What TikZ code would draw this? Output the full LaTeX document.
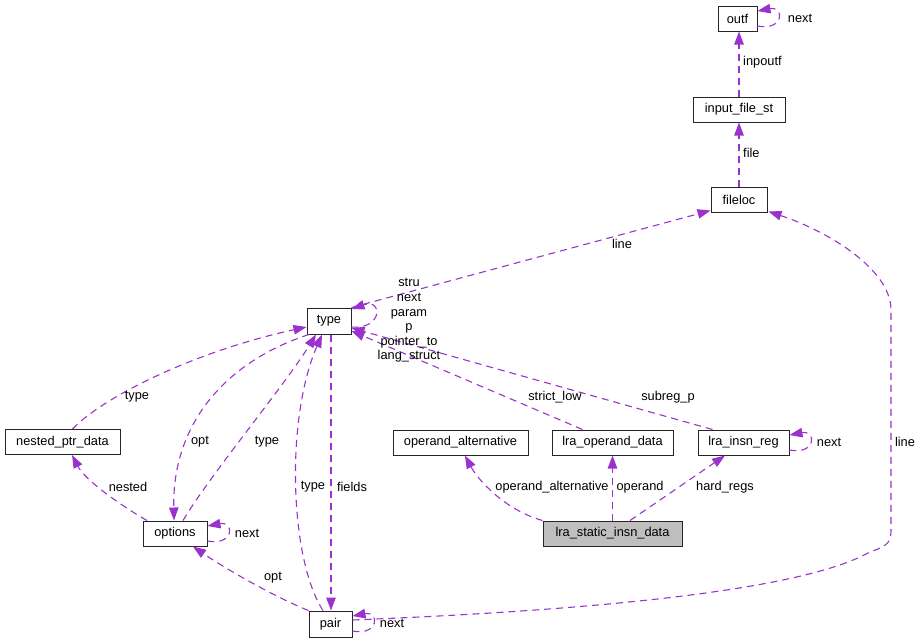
\documentclass[tikz,border=0pt]{standalone}
\usepackage{fontspec}
\setmainfont{Liberation Sans}
\usetikzlibrary{arrows.meta}
\definecolor{edgec}{HTML}{9A32CD}
\definecolor{grayfill}{HTML}{BFBFBF}
\begin{document}
\begin{tikzpicture}[x=1pt,y=1pt,
  box/.style={draw=black!85, line width=1pt, inner sep=0pt, minimum height=25pt,
    font=\fontsize{12.8}{14}\selectfont},
  edge/.style={draw=edgec, line width=1.1pt, dash pattern=on 7pt off 5pt,
    -{Triangle[length=13pt,width=9.5pt]}, edgec},
  lbl/.style={font=\fontsize{12.8}{14}\selectfont, inner sep=0pt}]
\useasboundingbox (0,0) rectangle (923,-643);

% nodes
\node[box, minimum width=39pt] (outf) at (737.5,-18.5) {outf};
\node[box, minimum width=92pt] (input) at (739,-109.5) {input\_file\_st};
\node[box, minimum width=56pt] (fileloc) at (739,-199.5) {fileloc};
\node[box, minimum width=44pt, minimum height=26pt] (type) at (329,-321) {type};
\node[box, minimum width=115pt] (nested) at (62.5,-442) {nested\_ptr\_data};
\node[box, minimum width=135pt] (opalt) at (460.5,-442.5) {operand\_alternative};
\node[box, minimum width=121pt] (lraop) at (612.5,-442.5) {lra\_operand\_data};
\node[box, minimum width=91pt] (lrainsn) at (743.5,-442.5) {lra\_insn\_reg};
\node[box, minimum width=64pt] (options) at (175,-533.5) {options};
\node[box, minimum width=139pt, fill=grayfill] (lrastatic) at (612.5,-533.5) {lra\_static\_insn\_data};
\node[box, minimum width=43pt, minimum height=26pt] (pair) at (330.5,-624) {pair};

% edges
\draw[edge] (input.north) -- (input.north |- outf.south);
\draw[edge] (outf.east) ++(0,-7.5) .. controls +(27,-5) and +(27,5) .. ([yshift=7.5pt]outf.east);
\draw[edge] (fileloc.north) -- (input.south);
\draw[edge] (type.north east) -- ([yshift=2pt]fileloc.south west);
\draw[edge] ([yshift=-6pt]type.east) .. controls (382,-330) and (384,-298) .. ([yshift=12pt]type.east);
\draw[edge] ([xshift=-30pt]lraop.north) -- ([yshift=-10pt]type.east);
\draw[edge] ([xshift=-31pt]lrainsn.north) -- ([yshift=-7pt]type.east);
\draw[edge] ([xshift=10pt]nested.north) .. controls (105,-395) and (200,-350) .. ([yshift=-6pt]type.west);
\draw[edge] ([xshift=8pt]options.north) .. controls (210,-475) and (285,-385) .. ([xshift=-13pt]type.south);
\draw[edge] ([xshift=-20pt]type.south) .. controls (230,-360) and (172,-420) .. ([xshift=-1pt]options.north);
\draw[edge] ([xshift=-28pt]options.north) .. controls (120,-505) and (85,-480) .. ([xshift=9.5pt]nested.south);
\draw[edge] ([yshift=-7.5pt]options.east) .. controls +(27,-5) and +(27,5) .. ([yshift=7.5pt]options.east);
\draw[edge] (pair.north west) .. controls (270,-595) and (220,-565) .. ([xshift=18pt]options.south);
\draw[edge] ([xshift=-7.5pt]pair.north) .. controls (290,-560) and (285,-420) .. ([xshift=-7pt]type.south);
\draw[edge] ([xshift=2pt]type.south) -- ([xshift=0.5pt]pair.north);
\draw[edge] ([yshift=-7pt]pair.east) .. controls +(27,-5) and +(27,5) .. ([yshift=8pt]pair.east);
\draw[edge] ([yshift=4pt]pair.east) .. controls (600,-610) and (800,-590) .. (868,-553)
  .. controls (885,-546) and (891,-545) .. (891,-530) -- (891,-310)
  .. controls (891,-270) and (830,-232) .. ([xshift=1pt,yshift=1pt]fileloc.south east);
\draw[edge] (lrastatic.north west) .. controls (505,-510) and (478,-480) .. ([xshift=4.5pt]opalt.south);
\draw[edge] (lrastatic.north) -- (lraop.south);
\draw[edge] ([xshift=17.5pt]lrastatic.north) -- ([xshift=-18.5pt]lrainsn.south);
\draw[edge] ([yshift=-7.5pt]lrainsn.east) .. controls +(27,-5) and +(27,5) .. ([yshift=7.5pt]lrainsn.east);

% labels
\node[lbl] (Lo1) at (800,-18) {next};
\node[lbl, anchor=west] (Lo2) at (743,-62) {inpoutf};
\node[lbl, anchor=west] (Lo3) at (743,-153) {file};
\node[lbl] (Lo4) at (622,-244) {line};
\node[lbl, align=center, font=\fontsize{12.8}{14.6}\selectfont] (Lo5) at (409,-320.5)
  {stru\\next\\param\\p\\pointer\_to\\lang\_struct};
\node[lbl] (Lo6) at (555,-397) {strict\_low};
\node[lbl] (Lo7) at (668,-397) {subreg\_p};
\node[lbl] (Lo8) at (137,-397) {type};
\node[lbl] (Lo9) at (200,-442) {opt};
\node[lbl] (Lo10) at (267,-442) {type};
\node[lbl] (Lo11) at (128,-487) {nested};
\node[lbl] (Lo12) at (313,-487) {type};
\node[lbl] (Lo13) at (352,-487) {fields};
\node[lbl] (Lo14) at (247,-533) {next};
\node[lbl] (Lo15) at (273,-578) {opt};
\node[lbl] (Lo16) at (392,-623) {next};
\node[lbl] (Lo17) at (552,-487) {operand\_alternative};
\node[lbl] (Lo18) at (640,-487) {operand};
\node[lbl] (Lo19) at (725,-487) {hard\_regs};
\node[lbl] (Lo20) at (829,-442) {next};
\node[lbl] (Lo21) at (905,-442) {line};
\end{tikzpicture}
\end{document}
